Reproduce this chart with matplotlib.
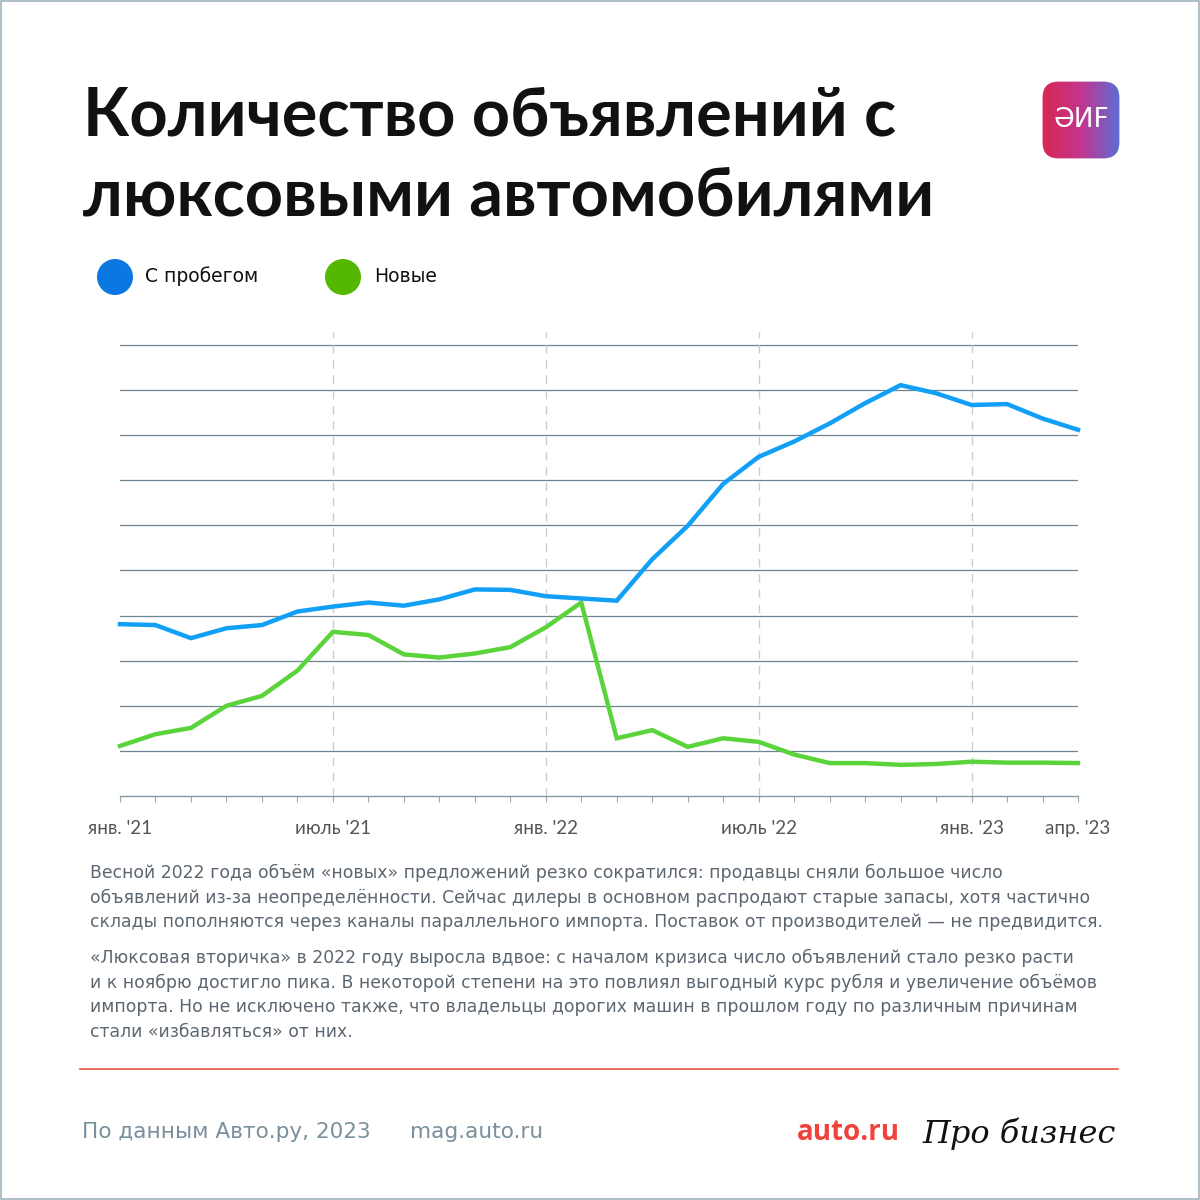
import numpy as np
import matplotlib.pyplot as plt
from matplotlib.patches import FancyBboxPatch, Circle, Rectangle
from matplotlib.lines import Line2D
from matplotlib.colors import LinearSegmentedColormap

# --- data (arbitrary units: one gridline = 1) ---
months = list(range(28))  # янв. 2021 ... апр. 2023
used_cars = [3.81, 3.79, 3.50, 3.72, 3.79, 4.09, 4.20, 4.29, 4.22, 4.36, 4.58, 4.57,
             4.43, 4.38, 4.33, 5.25, 5.99, 6.92, 7.52, 7.86, 8.26, 8.71, 9.11, 8.93,
             8.67, 8.69, 8.37, 8.12]
new_cars = [1.11, 1.37, 1.51, 2.00, 2.22, 2.78, 3.64, 3.57, 3.14, 3.07, 3.16, 3.30,
            3.74, 4.29, 1.28, 1.46, 1.09, 1.28, 1.20, 0.92, 0.73, 0.73, 0.69, 0.71,
            0.76, 0.74, 0.74, 0.73]
tick_pos = [0, 6, 12, 18, 24, 27]
tick_labels = ["янв. '21", "июль '21", "янв. '22", "июль '22", "янв. '23", "апр. '23"]
dashed_pos = [6, 12, 18, 24]
grid_levels = list(range(1, 11))

title_lines = ["Количество объявлений с", "люксовыми автомобилями"]
legend_names = ["С пробегом", "Новые"]
para1 = ["Весной 2022 года объём «новых» предложений резко сократился: продавцы сняли большое число",
         "объявлений из-за неопределённости. Сейчас дилеры в основном распродают старые запасы, хотя частично",
         "склады пополняются через каналы параллельного импорта. Поставок от производителей — не предвидится."]
para2 = ["«Люксовая вторичка» в 2022 году выросла вдвое: с началом кризиса число объявлений стало резко расти",
         "и к ноябрю достигло пика. В некоторой степени на это повлиял выгодный курс рубля и увеличение объёмов",
         "импорта. Но не исключено также, что владельцы дорогих машин в прошлом году по различным причинам",
         "стали «избавляться» от них."]

BLUE = "#12a0f7"
GREEN = "#5ad43a"
GRID = "#6f8491"
TITLEFONT = ["Lato", "DejaVu Sans"]
TEXTFONT = ["DejaVu Sans"]
TICKFONT = ["Lato", "DejaVu Sans"]

W = H = 1200
fig = plt.figure(figsize=(12, 12), dpi=100)
fig.patch.set_facecolor("white")


def fx(x):
    return x / W


def fy(y):
    return 1 - y / H


# frame around the card
fig.add_artist(Rectangle((0.001, 0.001), 0.998, 0.998, transform=fig.transFigure,
                         fill=False, edgecolor="#aebfc8", lw=1.5))

# title
for i, line in enumerate(title_lines):
    fig.text(fx(83), fy(117 + i * 80), line, fontsize=48, fontweight="bold",
             family=TITLEFONT, color="#111111", va="center", ha="left")

# logo (rounded square with gradient)
lx0, ly0, lsz = 1041, 80, 80
logo_ax = fig.add_axes([fx(lx0), fy(ly0 + lsz), lsz / W, lsz / H])
logo_ax.set_xlim(0, 1)
logo_ax.set_ylim(0, 1)
logo_ax.axis("off")
grad = np.linspace(0, 1, 256).reshape(1, -1)
cmap = LinearSegmentedColormap.from_list("aif", ["#d8274f", "#c2358e", "#5a6fd8"])
im = logo_ax.imshow(np.vstack([grad] * 10), extent=[0, 1, 0, 1], cmap=cmap,
                    aspect="auto", zorder=1)
box = FancyBboxPatch((0.02, 0.02), 0.96, 0.96, boxstyle="round,pad=0,rounding_size=0.2",
                     transform=logo_ax.transData, facecolor="none", edgecolor="none")
logo_ax.add_patch(box)
im.set_clip_path(box)
logo_ax.text(0.5, 0.5, "ƏИF", color="white", fontsize=19, ha="center", va="center",
             family=["DejaVu Sans"], zorder=3)

# legend
for cx, name, col, tx in [(115, legend_names[0], "#0a78e0", 145), (343, legend_names[1], "#55b800", 374)]:
    fig.add_artist(Circle((fx(cx), fy(277)), 18 / W, transform=fig.transFigure,
                          facecolor=col, edgecolor="none"))
    fig.text(fx(tx), fy(276), name, fontsize=13.5, family=TEXTFONT, color="#111111",
             va="center", ha="left")

# chart
top_px, bot_px, left_px, right_px = 332, 796, 120, 1078
unit_px = 45.1
ax = fig.add_axes([fx(left_px), fy(bot_px), (right_px - left_px) / W, (bot_px - top_px) / H])
ax.set_xlim(months[0], months[-1])
ax.set_ylim(0, (bot_px - top_px) / unit_px)
for s in ["top", "right", "left"]:
    ax.spines[s].set_visible(False)
ax.spines["bottom"].set_color("#8a9aa5")
ax.spines["bottom"].set_linewidth(1.0)
ax.set_yticks([])
for g in grid_levels:
    ax.axhline(g, color=GRID, lw=0.9, zorder=1)
for d in dashed_pos:
    ax.axvline(d, color="#c9cdd0", lw=1.0, ls=(0, (6, 5)), zorder=1)
ax.set_xticks(months)
ax.set_xticklabels([tick_labels[tick_pos.index(m)] if m in tick_pos else "" for m in months],
                   fontsize=13.5, family=TICKFONT, color="#555555")
ax.tick_params(axis="x", length=4, width=0.8, color="#9aa8b0", pad=13)
ax.plot(months, new_cars, color=GREEN, lw=3.2, solid_joinstyle="miter", zorder=3, clip_on=False)
ax.plot(months, used_cars, color=BLUE, lw=3.2, solid_joinstyle="miter", zorder=4, clip_on=False)

# body text
for i, line in enumerate(para1):
    fig.text(fx(90), fy(873 + i * 24.7), line, fontsize=12.45, family=TEXTFONT,
             color="#5b6670", va="center", ha="left")
for i, line in enumerate(para2):
    fig.text(fx(90), fy(958 + i * 24.7), line, fontsize=12.45, family=TEXTFONT,
             color="#5b6670", va="center", ha="left")

# red separator
fig.add_artist(Line2D([fx(80), fx(1118)], [fy(1069), fy(1069)], transform=fig.transFigure,
                      color="#e5533f", lw=1.2))

# footer
fig.text(fx(82), fy(1132), "По данным Авто.ру, 2023", fontsize=15.6, family=TEXTFONT,
         color="#7a909c", va="center", ha="left")
fig.text(fx(410), fy(1132), "mag.auto.ru", fontsize=15.6, family=TEXTFONT,
         color="#7a909c", va="center", ha="left")
fig.text(fx(797), fy(1132), "auto.ru", fontsize=20, fontweight="bold", family=["Open Sans"],
         color="#f0413a", va="center", ha="left")
fig.text(fx(922), fy(1134), "Про бизнес", fontsize=23, style="italic", family=["DejaVu Serif"],
         color="#111111", va="center", ha="left")

fig.savefig("out.png", dpi=100, facecolor="white")
